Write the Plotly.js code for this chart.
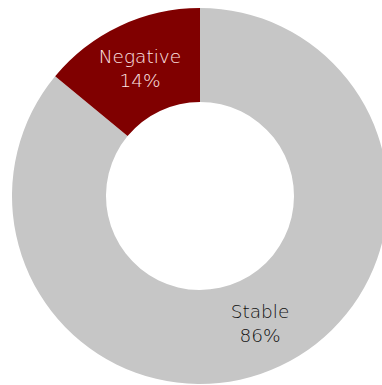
<!DOCTYPE html>
<html>
<head>
<meta charset="utf-8">
<script src="https://cdn.plot.ly/plotly-3.0.1.min.js"></script>
<style>
html, body { margin: 0; padding: 0; overflow: hidden; background: #fff; }
#chart { width: 400px; height: 385px; }
</style>
</head>
<body>
<div id="chart"></div>
<script>
const labels = ["Stable", "Negative"];
const values = [86, 14];
const sliceColors = ["#c6c6c6", "#800000"];
const textColors = ["#111111", "#ffe6e6"];

const trace = {
  type: "pie",
  labels: labels,
  values: values,
  hole: 0.5,
  sort: false,
  direction: "clockwise",
  rotation: 0,
  marker: { colors: sliceColors, line: { width: 0 } },
  texttemplate: "%{label}<br>%{percent:.0%}",
  textposition: "inside",
  insidetextorientation: "horizontal",
  textfont: { family: "DejaVu Sans", size: 18.5, weight: 200, color: textColors },
  hoverinfo: "none",
  showlegend: false,
  domain: { x: [12/400, 388/400], y: [1/385, 377/385] }
};

const layout = {
  width: 400,
  height: 385,
  margin: { l: 0, r: 0, t: 0, b: 0 },
  paper_bgcolor: "#ffffff",
  showlegend: false
};

Plotly.newPlot("chart", [trace], layout, { displayModeBar: false, staticPlot: true });
</script>
</body>
</html>
